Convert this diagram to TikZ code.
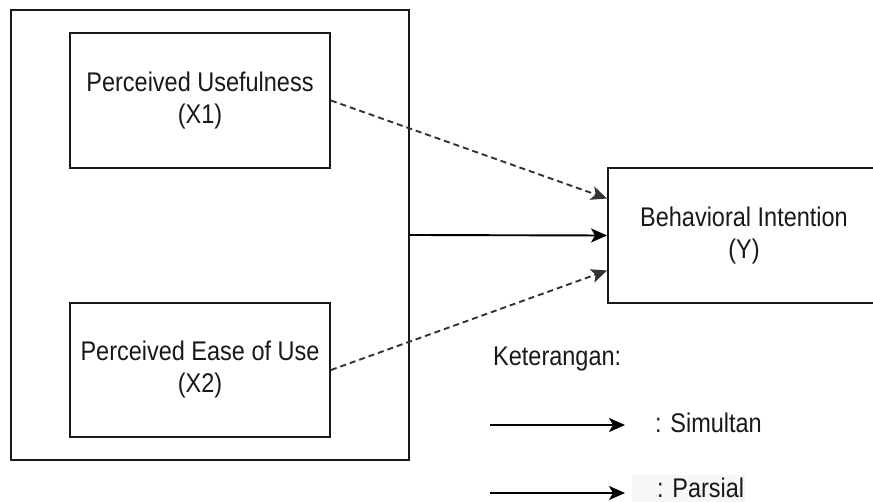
\documentclass[tikz,border=0pt]{standalone}
\usepackage{fontspec}
\setmainfont{Liberation Sans}[FakeStretch=0.87]
\usetikzlibrary{arrows.meta}
\definecolor{txt}{RGB}{25,25,25}
\definecolor{parsbg}{RGB}{247,247,247}
\begin{document}
\begin{tikzpicture}[x=1pt,y=-1pt,
  box/.style={draw=black!90,line width=1.9pt,rectangle,inner sep=0pt,align=center,text=txt,
    font=\fontsize{27}{32}\selectfont},
  lbl/.style={inner sep=0pt,text=txt,font=\fontsize{27}{32}\selectfont},
  tip/.style={-{Stealth[length=16pt,width=14pt,inset=4pt]}},
  solidarrow/.style={tip,line width=1.9pt,draw=black},
  dasharrow/.style={tip,line width=1.9pt,draw=black!80,dash pattern=on 6pt off 4pt}]
\useasboundingbox (0,0) rectangle (873,502);
\fill[white] (0,0) rectangle (873,502);
\node[box,minimum width=398pt,minimum height=450pt] (outer) at (210,235) {};
\node[box,minimum width=260pt,minimum height=135pt] (x1) at (200,100.5) {Perceived Usefulness\\(X1)};
\node[box,minimum width=260pt,minimum height=134pt] (x2) at (200,370) {Perceived Ease of Use\\(X2)};
\node[box,minimum width=272pt,minimum height=135pt] (y) at (744,235.5) {Behavioral Intention\\(Y)};
\draw[dasharrow] (x1.east) -- ([yshift=37pt]y.west);
\draw[solidarrow] (outer.east) -- (y.west);
\draw[dasharrow] (x2.east) -- ([yshift=-35pt]y.west);
% legend
\node[lbl,anchor=base west] (ket) at (493,366) {Keterangan:};
\coordinate (s1) at (490,425);
\coordinate (s2) at (625,425);
\draw[solidarrow] (s1) -- (s2);
\node[lbl,anchor=base west] (sim) at (655,433) {: Simultan};
\fill[parsbg] (632,475) rectangle (745,502);
\coordinate (p1) at (490,493);
\coordinate (p2) at (625,493);
\draw[solidarrow] (p1) -- (p2);
\node[lbl,anchor=base west] (par) at (657,497) {: Parsial};
\end{tikzpicture}
\end{document}
